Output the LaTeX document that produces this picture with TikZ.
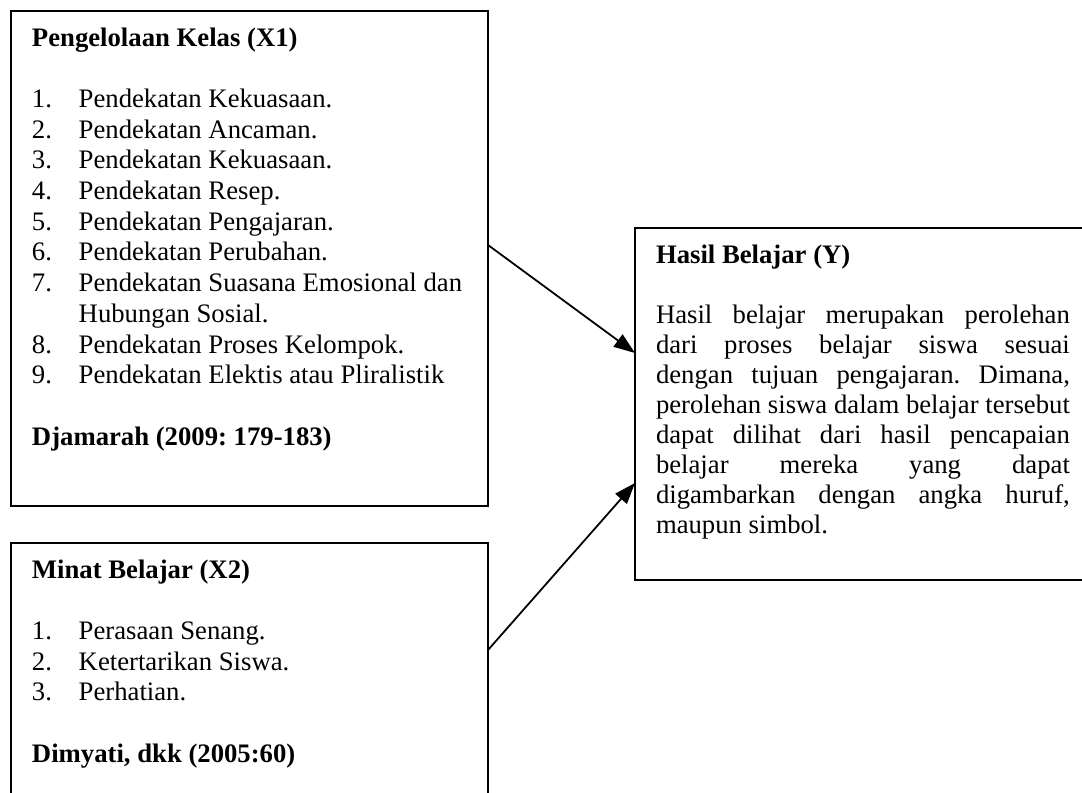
\documentclass[tikz,border=0pt]{standalone}
\usepackage{fontspec}
\setmainfont{Liberation Serif}
\usetikzlibrary{arrows.meta,fit}
\newcommand\numitem[2]{\makebox[21pt][l]{#1}#2\par}
\frenchspacing
\begin{document}
\begin{tikzpicture}[x=0.4494pt,y=-0.4494pt,
  box/.style={draw,line width=0.75pt,inner sep=0pt,outer sep=0pt},
  txta/.style={anchor=base west,inner sep=0pt,outer sep=0pt,font=\fontsize{12pt}{13.8pt}\selectfont},
  txtb/.style={anchor=base west,inner sep=0pt,outer sep=0pt,font=\fontsize{12pt}{13.5pt}\selectfont},
  arr/.style={-{Triangle[length=9.5pt,width=6.8pt]},line width=0.8pt}]
\useasboundingbox (0,0) rectangle (1082,792);
\fill[white] (0,0) rectangle (1082,792);
\clip (0,0) rectangle (1082,792);
\node[box,fit={(11,11) (488,506)}] (b1) {};
\node[box,fit={(11,543) (488,830)}] (b2) {};
\node[box,fit={(635,228) (1120,580)}] (b3) {};
\node[txta] (t1) at (32,46) {\parbox[t]{215pt}{\textbf{Pengelolaan Kelas (X1)}\par\mbox{}\par
\numitem{1.}{Pendekatan Kekuasaan.}
\numitem{2.}{Pendekatan Ancaman.}
\numitem{3.}{Pendekatan Kekuasaan.}
\numitem{4.}{Pendekatan Resep.}
\numitem{5.}{Pendekatan Pengajaran.}
\numitem{6.}{Pendekatan Perubahan.}
\numitem{7.}{Pendekatan Suasana Emosional dan}
\numitem{}{Hubungan Sosial.}
\numitem{8.}{Pendekatan Proses Kelompok.}
\numitem{9.}{Pendekatan Elektis atau Pliralistik}
\mbox{}\par
\textbf{Djamarah (2009: 179-183)}}};
\node[txta] (t2) at (32,578) {\parbox[t]{215pt}{\textbf{Minat Belajar (X2)}\par\mbox{}\par
\numitem{1.}{Perasaan Senang.}
\numitem{2.}{Ketertarikan Siswa.}
\numitem{3.}{Perhatian.}
\mbox{}\par
\textbf{Dimyati, dkk (2005:60)}}};
\node[txtb] (t3) at (656,263) {\parbox[t]{186pt}{\hyphenpenalty=10000 \exhyphenpenalty=10000 \tolerance=10000
\textbf{Hasil Belajar (Y)}\par\mbox{}\par
Hasil belajar merupakan perolehan\linebreak dari proses belajar siswa sesuai\linebreak dengan tujuan pengajaran. Dimana,\linebreak perolehan siswa dalam belajar tersebut\linebreak dapat dilihat dari hasil pencapaian\linebreak belajar mereka yang dapat\linebreak digambarkan dengan angka huruf,\linebreak maupun simbol.}};
\draw[arr] ([yshift=6.07pt]b1.east) -- ([yshift=22.92pt]b3.west);
\draw[arr] ([yshift=16.40pt]b2.east) -- ([yshift=-35.50pt]b3.west);
\end{tikzpicture}
\end{document}
